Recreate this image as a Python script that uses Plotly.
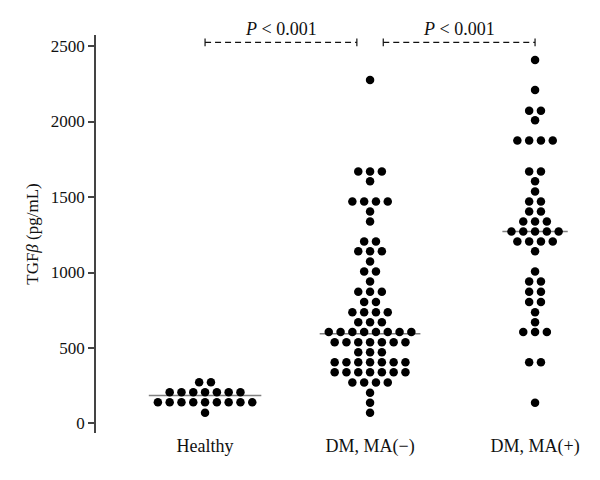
import plotly.graph_objects as go
from collections import Counter

groups = ["Healthy", "DM, MA(\u2212)", "DM, MA(+)"]

healthy = [273, 273,
           207, 207, 207, 207, 207, 207, 207,
           141, 141, 141, 141, 141, 141, 141, 141, 141,
           71]

dm_ma_neg = [2275,
             1669, 1669, 1669,
             1605,
             1470, 1470, 1470, 1470,
             1404,
             1338,
             1206, 1206,
             1140, 1140, 1140,
             1073,
             1007, 1007,
             941,
             873, 873, 873,
             805, 805,
             736, 736, 736, 736,
             670, 670, 670,
             606, 606, 606, 606, 606, 606, 606, 606,
             538, 538, 538, 538, 538, 538, 538,
             472, 472, 472,
             405, 405, 405, 405, 405, 405, 405,
             339, 339, 339, 339, 339, 339, 339,
             271, 271, 271, 271,
             203,
             137,
             71]

dm_ma_pos = [2407,
             2209,
             2072, 2072,
             2008,
             1874, 1874, 1874, 1874,
             1669, 1669,
             1605,
             1536,
             1470, 1470,
             1404, 1404,
             1338, 1338, 1338,
             1272, 1272, 1272, 1272, 1272,
             1206, 1206, 1206, 1206,
             1140,
             1007,
             941, 941,
             873, 873,
             805, 805,
             736,
             670,
             606, 606, 606,
             405, 405,
             137]

medians = [185, 595, 1272]

p_label = "<i>P</i> < 0.001"

SERIF = "Liberation Serif, Times New Roman, serif"
SPACING = 0.0715  # horizontal spacing between dots (x units)

fig = go.Figure()

all_groups = [healthy, dm_ma_neg, dm_ma_pos]
for gi, vals in enumerate(all_groups):
    counts = Counter(vals)
    xs, ys = [], []
    for v, n in counts.items():
        for k in range(n):
            xs.append(gi + (k - (n - 1) / 2) * SPACING)
            ys.append(v)
    fig.add_trace(go.Scatter(x=xs, y=ys, mode="markers",
                             marker=dict(size=8.5, color="black"),
                             showlegend=False, hoverinfo="y"))
    widest = max(counts.values())
    half = (widest - 1) / 2 * SPACING + 0.055
    fig.add_shape(type="line", x0=gi - half, x1=gi + half, y0=medians[gi], y1=medians[gi],
                  line=dict(color="#808080", width=1.5), layer="below")

# significance brackets
bracket_y = 2524
brackets = [(0, 1 - 0.08), (1 + 0.08, 2)]
for (a, b) in brackets:
    fig.add_shape(type="line", x0=a, x1=b, y0=bracket_y, y1=bracket_y,
                  line=dict(color="#111111", width=1.2, dash="6px,4px"))
    for xe in (a, b):
        fig.add_shape(type="line", x0=xe, x1=xe, y0=bracket_y - 25, y1=bracket_y + 25,
                      line=dict(color="#111111", width=1.2))
    fig.add_annotation(x=(a + b) / 2, y=bracket_y, text=p_label, showarrow=False,
                       yanchor="bottom", yshift=1,
                       font=dict(family=SERIF, size=18, color="#111111"))

fig.update_layout(
    width=600, height=480,
    margin=dict(l=88, r=18, t=27, b=55),
    plot_bgcolor="white", paper_bgcolor="white",
    font=dict(family=SERIF, size=17, color="#111111"),
    xaxis=dict(range=[-0.661, 2.333], tickmode="array", tickvals=[0, 1, 2],
               ticktext=groups, showline=False, showgrid=False, zeroline=False,
               ticks="", tickfont=dict(family=SERIF, size=18)),
    yaxis=dict(range=[-63, 2573], tickvals=[0, 500, 1000, 1500, 2000, 2500],
               showline=True, linecolor="#444444", linewidth=1.5,
               ticks="outside", ticklen=6, tickcolor="#444444", tickwidth=1.5,
               showgrid=False, zeroline=False,
               tickfont=dict(family=SERIF, size=17),
               title=dict(text="TGF<i>\u03b2</i> (pg/mL)", standoff=8,
                          font=dict(family=SERIF, size=17))),
)

fig.write_html("out.html")
